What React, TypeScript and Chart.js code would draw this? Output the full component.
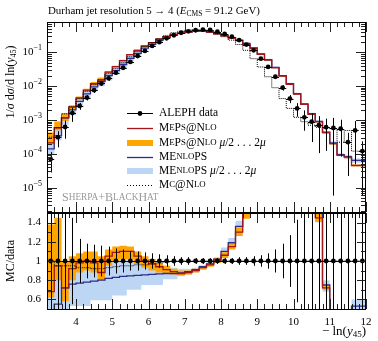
import React, { useEffect, useRef } from "react";
import { Chart, registerables } from "chart.js";
Chart.register(...registerables);

const binEdges = [3.2, 3.4, 3.6, 3.8, 4.0, 4.2, 4.4, 4.6, 4.8, 5.0, 5.2, 5.4, 5.6, 5.8, 6.0, 6.2, 6.4, 6.6, 6.8, 7.0, 7.2, 7.4, 7.6, 7.8, 8.0, 8.2, 8.4, 8.6, 8.8, 9.0, 9.2, 9.4, 9.6, 9.8, 10.0, 10.2, 10.4, 10.6, 10.8, 11.0, 11.2, 11.4, 11.6, 11.8, 12.0];

const aleph = [7e-5, 3.1e-4, 6.2e-4, 1.6e-3, 2.6e-3, 4.6e-3, 7.6e-3, 1.2e-2, 1.7e-2, 2.5e-2,
  3.5e-2, 5.2e-2, 7.8e-2, 0.11, 0.155, 0.2, 0.26, 0.32, 0.38, 0.42,
  0.45, 0.47, 0.46, 0.41, 0.35, 0.29, 0.23, 0.17, 0.115, 0.065,
  0.037, 0.019, 9e-3, 4.3e-3, 2.2e-3, 1.2e-3, 8.9e-4, 7e-4, 6.1e-4, 5.8e-4,
  5.5e-4, 2.2e-4, 4.9e-4, 1.2e-4];
const alephErr = [0.6, 0.5, 0.55, 0.45, 0.23, 0.18, 0.17, 0.16, 0.15, 0.13,
  0.12, 0.1, 0.1, 0.09, 0.08, 0.07, 0.06, 0.05, 0.04, 0.04,
  0.03, 0.03, 0.03, 0.03, 0.03, 0.03, 0.04, 0.04, 0.05, 0.06,
  0.08, 0.12, 0.18, 0.27, 0.43, 0.6, 0.75, 0.85, 0.8, 0.99,
  0.85, 0.9, 0.9, 0.95];

const mepsTop = [6.3e-5, 2.1e-4, 5.9e-4, 1.15e-3, 2.4e-3, 4.5e-3, 7.6e-3, 1.18e-2, 1.5e-2, 2.6e-2,
  3.8e-2, 5.7e-2, 8.6e-2, 0.115, 0.155, 0.194, 0.244, 0.291, 0.338, 0.365,
  0.396, 0.423, 0.428, 0.394, 0.35, 0.307, 0.265, 0.221, 0.173, 0.13,
  0.087, 0.059, 0.035, 0.0198, 0.0114, 0.0058, 0.0029, 0.00147, 8.8e-4, 4.2e-4,
  2.0e-4, 9e-5, 8e-5, 4.5e-5];
const mepsBandTopLo = [2.8e-5, 1.92e-4, 4.96e-4, 9.3e-4, 2.08e-3, 4.05e-3, 6.84e-3, 1.06e-2, 1.36e-2, 2.38e-2,
  3.5e-2, 5.3e-2, 7.96e-2, 0.107, 0.144, 0.18, 0.229, 0.278, 0.327, 0.357,
  0.387, 0.414, 0.419, 0.385, 0.343, 0.299, 0.258, 0.214, 0.166, 0.1235,
  0.0833, 0.057, 0.0342, 0.0194, 0.0112, 0.00564, 0.00285, 0.0014, 8.6e-4, 4.06e-4,
  1.87e-4, 8.6e-5, 7.4e-5, 4.3e-5];
const mepsBandTopHi = [1.12e-4, 4.3e-4, 9.0e-4, 1.6e-3, 2.73e-3, 4.97e-3, 8.36e-3, 1.32e-2, 1.79e-2, 2.8e-2,
  4.03e-2, 6.03e-2, 8.97e-2, 0.121, 0.163, 0.204, 0.255, 0.304, 0.35, 0.378,
  0.405, 0.432, 0.437, 0.402, 0.36, 0.316, 0.271, 0.23, 0.184, 0.137,
  0.0907, 0.0608, 0.036, 0.0202, 0.0117, 0.00588, 0.00303, 0.00154, 9.15e-4, 4.3e-4,
  2.1e-4, 9.5e-5, 8.3e-5, 4.8e-5];

const menlopsTop = [4.2e-5, 1.4e-4, 3.4e-4, 1.15e-3, 1.98e-3, 3.54e-3, 5.9e-3, 9.5e-3, 1.36e-2, 2.05e-2,
  2.9e-2, 4.37e-2, 6.6e-2, 9.35e-2, 0.1325, 0.172, 0.225, 0.278, 0.331, 0.3675,
  0.40, 0.428, 0.432, 0.398, 0.357, 0.319, 0.274, 0.231, 0.184, 0.1365,
  0.0907, 0.0608, 0.036, 0.0206, 0.0119, 0.006, 0.003, 0.00154, 9.15e-4, 4.35e-4,
  2.1e-4, 9.5e-5, 8.3e-5, 6.4e-5];
const menlopsBandTopLo = [2.1e-5, 9.3e-5, 2.48e-4, 7.2e-4, 1.38e-3, 2.44e-3, 4.03e-3, 7.08e-3, 1.0e-2, 1.48e-2,
  2.24e-2, 3.33e-2, 5.46e-2, 0.077, 0.116, 0.15, 0.195, 0.259, 0.308, 0.353,
  0.387, 0.414, 0.423, 0.39, 0.35, 0.307, 0.262, 0.221, 0.178, 0.13,
  0.0851, 0.057, 0.0342, 0.0194, 0.0112, 0.00564, 0.00285, 0.0014, 8.5e-4, 3.94e-4,
  1.82e-4, 8.4e-5, 6.9e-5, 5.4e-5];
const menlopsBandTopHi = [7e-5, 3.1e-4, 6.2e-4, 1.52e-3, 2.52e-3, 4.46e-3, 7.45e-3, 1.19e-2, 1.7e-2, 2.55e-2,
  3.64e-2, 5.46e-2, 8.19e-2, 0.114, 0.158, 0.2, 0.255, 0.304, 0.353, 0.386,
  0.414, 0.437, 0.437, 0.406, 0.364, 0.331, 0.285, 0.241, 0.196, 0.143,
  0.0962, 0.0646, 0.0378, 0.0215, 0.01254, 0.00636, 0.0032, 0.00165, 9.6e-4, 4.64e-4,
  2.31e-4, 1.03e-4, 9.3e-5, 7.2e-5];

const mcnloTop = [7e-5, 3.1e-4, 5.9e-4, 1.52e-3, 2.47e-3, 4.28e-3, 7.07e-3, 1.1e-2, 1.56e-2, 2.33e-2,
  3.29e-2, 4.94e-2, 7.41e-2, 0.106, 0.149, 0.194, 0.255, 0.317, 0.38, 0.42,
  0.45, 0.47, 0.46, 0.41, 0.35, 0.29, 0.23, 0.17, 0.115, 0.065,
  0.037, 0.019, 9e-3, 4.3e-3, 2.2e-3, 1.2e-3, 8.9e-4, 7e-4, 6.1e-4, 5.8e-4,
  5.5e-4, 2.2e-4, 4.9e-4, 1.2e-4];

const mepsRatio = [0.9, 0.68, 0.95, 0.72, 0.92, 0.98, 1.0, 0.98, 0.88, 1.05,
  1.09, 1.1, 1.1, 1.05, 1.0, 0.97, 0.94, 0.91, 0.89, 0.87,
  0.88, 0.9, 0.93, 0.96, 1.0, 1.06, 1.15, 1.3, 1.5, 2.0,
  2.35, 3.1, 3.9, 4.6, 5.2, 4.8, 3.3, 2.1, 1.45, 0.72,
  0.36, 0.41, 0.16, 0.38];
const mepsBandRatioLo = [0.4, 0.62, 0.8, 0.58, 0.8, 0.88, 0.9, 0.88, 0.8, 0.95,
  1.0, 1.02, 1.02, 0.97, 0.93, 0.9, 0.88, 0.87, 0.86, 0.85,
  0.86, 0.88, 0.91, 0.94, 0.98, 1.03, 1.12, 1.26, 1.44, 1.9,
  2.25, 3.0, 3.8, 4.5, 5.1, 4.7, 3.2, 2.0, 1.41, 0.7,
  0.34, 0.39, 0.15, 0.36];
const mepsBandRatioHi = [1.6, 1.38, 1.45, 1.0, 1.05, 1.08, 1.1, 1.1, 1.05, 1.12,
  1.15, 1.16, 1.15, 1.1, 1.05, 1.02, 0.98, 0.95, 0.92, 0.9,
  0.9, 0.92, 0.95, 0.98, 1.03, 1.09, 1.18, 1.35, 1.6, 2.1,
  2.45, 3.2, 4.0, 4.7, 5.3, 4.9, 3.4, 2.2, 1.5, 0.74,
  0.38, 0.43, 0.17, 0.4];

const menlopsRatio = [0.6, 0.45, 0.55, 0.72, 0.76, 0.77, 0.78, 0.79, 0.8, 0.82,
  0.83, 0.84, 0.845, 0.85, 0.855, 0.86, 0.865, 0.87, 0.87, 0.875,
  0.89, 0.91, 0.94, 0.97, 1.02, 1.1, 1.19, 1.36, 1.6, 2.1,
  2.45, 3.2, 4.0, 4.8, 5.4, 5.0, 3.4, 2.2, 1.5, 0.75,
  0.38, 0.43, 0.17, 0.53];
const menlopsBandRatioLo = [0.3, 0.3, 0.4, 0.45, 0.53, 0.53, 0.53, 0.59, 0.59, 0.59,
  0.64, 0.64, 0.7, 0.7, 0.75, 0.75, 0.75, 0.81, 0.81, 0.84,
  0.86, 0.88, 0.92, 0.95, 1.0, 1.06, 1.14, 1.3, 1.55, 2.0,
  2.3, 3.0, 3.8, 4.5, 5.1, 4.7, 3.2, 2.0, 1.4, 0.68,
  0.33, 0.38, 0.14, 0.45];
const menlopsBandRatioHi = [1.0, 1.0, 1.0, 0.95, 0.97, 0.97, 0.98, 0.99, 1.0, 1.02,
  1.04, 1.05, 1.05, 1.04, 1.02, 1.0, 0.98, 0.95, 0.93, 0.92,
  0.92, 0.93, 0.95, 0.99, 1.04, 1.14, 1.24, 1.42, 1.7, 2.2,
  2.6, 3.4, 4.2, 5.0, 5.7, 5.3, 3.6, 2.35, 1.58, 0.8,
  0.42, 0.47, 0.19, 0.6];

const mcnloRatio = [1.0, 1.0, 0.95, 0.95, 0.95, 0.93, 0.93, 0.92, 0.92, 0.93,
  0.94, 0.95, 0.95, 0.96, 0.96, 0.97, 0.98, 0.99, 1.0, 1.0,
  1.0, 1.0, 1.0, 1.0, 1.0, 1.0, 1.0, 1.0, 1.0, 1.0,
  1.0, 1.0, 1.0, 1.0, 1.0, 1.0, 1.0, 1.0, 1.0, 1.0,
  1.0, 1.0, 1.0, 1.0];

const xTickValues = [4, 5, 6, 7, 8, 9, 10, 11, 12];
const xTickLabels = ["4", "5", "6", "7", "8", "9", "10", "11", "12"];
const yTopTickValues = [1e-5, 1e-4, 1e-3, 1e-2, 1e-1];
const yTopTickExps = ["\u22125", "\u22124", "\u22123", "\u22122", "\u22121"];
const yRatioTickValues = [0.6, 0.8, 1, 1.2, 1.4];
const yRatioTickLabels = ["0.6", "0.8", "1", "1.2", "1.4"];

const X_MIN = 3.2, X_MAX = 12;
const Y_TOP_MIN = 1.9e-6, Y_TOP_MAX = 0.79;
const Y_R_MIN = 0.5, Y_R_MAX = 1.5;

const RED = "#a4161a";
const ORANGE = "#ffa500";
const BLUE = "#2c2c8c";
const LIGHTBLUE = "#bdd6f4";
const FONT = '"Liberation Serif", "DejaVu Serif", serif';

type Run = { t: string; s?: number; i?: boolean; dy?: number };

function setFont(ctx: CanvasRenderingContext2D, size: number, italic?: boolean) {
  ctx.font = `${italic ? "italic " : ""}${size}px ${FONT}`;
}
function drawRuns(ctx: CanvasRenderingContext2D, runs: Run[], x: number, y: number, base: number, align: "left" | "right" | "center" = "left") {
  let total = 0;
  const widths = runs.map((r) => { setFont(ctx, r.s ?? base, r.i); const w = ctx.measureText(r.t).width; total += w; return w; });
  let cx = align === "right" ? x - total : align === "center" ? x - total / 2 : x;
  runs.forEach((r, k) => {
    setFont(ctx, r.s ?? base, r.i);
    ctx.fillText(r.t, cx, y + (r.dy ?? 0));
    cx += widths[k];
  });
}

function steps(vals: number[]) {
  const pts = vals.map((v, i) => ({ x: binEdges[i], y: v }));
  pts.push({ x: binEdges[vals.length], y: vals[vals.length - 1] });
  return pts;
}
function lineDS(vals: number[], color: string, width: number, order: number, extra: any = {}) {
  return { data: steps(vals), stepped: "after", borderColor: color, borderWidth: width, pointRadius: 0, fill: false, order, ...extra };
}
function bandDS(lo: number[], hi: number[], color: string, order: number) {
  return [
    { data: steps(lo), stepped: "after", borderWidth: 0, borderColor: "rgba(0,0,0,0)", pointRadius: 0, fill: false, order },
    { data: steps(hi), stepped: "after", borderWidth: 0, borderColor: "rgba(0,0,0,0)", pointRadius: 0, fill: "-1", backgroundColor: color, order },
  ];
}
function pointsDS(vals: number[]) {
  return {
    data: vals.map((v, i) => ({ x: (binEdges[i] + binEdges[i + 1]) / 2, y: v })),
    showLine: false, pointRadius: 2.4, pointBackgroundColor: "#000", pointBorderWidth: 0, order: 0,
  };
}

function errorBars(vals: number[], errs: number[]) {
  return {
    id: "errbars",
    afterDatasetsDraw(chart: any) {
      const { ctx, chartArea: a, scales: { x, y } } = chart;
      ctx.save();
      ctx.beginPath(); ctx.rect(a.left, a.top, a.right - a.left, a.bottom - a.top); ctx.clip();
      ctx.strokeStyle = "#000"; ctx.lineWidth = 1;
      vals.forEach((v, i) => {
        const cx = Math.round(x.getPixelForValue((binEdges[i] + binEdges[i + 1]) / 2)) + 0.5;
        const py = Math.round(y.getPixelForValue(v)) + 0.5;
        const lo = v * (1 - errs[i]);
        const hi = v * (1 + errs[i]);
        const pLo = lo > 0 ? y.getPixelForValue(lo) : a.bottom + 5;
        const pHi = y.getPixelForValue(hi);
        ctx.beginPath(); ctx.moveTo(cx, pLo); ctx.lineTo(cx, pHi); ctx.stroke();
        ctx.beginPath(); ctx.moveTo(x.getPixelForValue(binEdges[i]), py); ctx.lineTo(x.getPixelForValue(binEdges[i + 1]), py); ctx.stroke();
      });
      ctx.restore();
    },
  };
}

function drawFrame(chart: any, yMajor: number[], yMinor: number[], xMajLen: number, yMajLen: number) {
  const { ctx, chartArea: a, scales } = chart;
  const xs = scales.x, ys = scales.y;
  ctx.save();
  ctx.strokeStyle = "#222"; ctx.lineWidth = 1;
  ctx.beginPath();
  for (let k = 0; k <= 44; k++) {
    const v = X_MIN + 0.2 * k;
    const major = Math.abs(v - Math.round(v)) < 1e-6;
    const len = major ? xMajLen : 5;
    const px = Math.round(xs.getPixelForValue(v)) + 0.5;
    ctx.moveTo(px, a.top); ctx.lineTo(px, a.top + len);
    ctx.moveTo(px, a.bottom); ctx.lineTo(px, a.bottom - len);
  }
  const yt = (v: number, len: number) => {
    const py = Math.round(ys.getPixelForValue(v)) + 0.5;
    if (py < a.top || py > a.bottom) return;
    ctx.moveTo(a.left, py); ctx.lineTo(a.left + len, py);
    ctx.moveTo(a.right, py); ctx.lineTo(a.right - len, py);
  };
  yMajor.forEach((v) => yt(v, yMajLen));
  yMinor.forEach((v) => yt(v, 5));
  ctx.stroke();
  ctx.strokeStyle = "#000";
  ctx.strokeRect(a.left + 0.5, a.top + 0.5, a.right - a.left - 1, a.bottom - a.top);
  ctx.restore();
}

const topDecor = {
  id: "topDecor",
  afterDraw(chart: any) {
    const { ctx, scales } = chart;
    const ys = scales.y;
    const minor: number[] = [];
    for (let d = -6; d <= 0; d++) for (let m = 2; m <= 9; m++) {
      const v = m * Math.pow(10, d);
      if (v > Y_TOP_MIN && v < Y_TOP_MAX) minor.push(v);
    }
    drawFrame(chart, yTopTickValues, minor, 10, 10);
    ctx.save();
    ctx.fillStyle = "#000";
    ctx.textBaseline = "middle";
    yTopTickValues.forEach((v, i) => {
      const py = ys.getPixelForValue(v);
      drawRuns(ctx, [{ t: "10", s: 11 }, { t: yTopTickExps[i], s: 8, dy: -4 }], 42, py, 11, "right");
    });
    // title
    drawRuns(ctx, [
      { t: "Durham jet resolution 5 \u2192 4 (" },
      { t: "E", i: true },
      { t: "CMS", s: 7.5, dy: 3 },
      { t: " = 91.2 GeV)" },
    ], 48, 11, 10.9, "left");
    // y label
    ctx.save();
    ctx.translate(11, 82);
    ctx.rotate(-Math.PI / 2);
    drawRuns(ctx, [
      { t: "1/" }, { t: "\u03c3", i: true }, { t: " d" }, { t: "\u03c3", i: true },
      { t: "/d ln(" }, { t: "y", i: true }, { t: "45", s: 8, dy: 3 }, { t: ")" },
    ], 0, 0, 12, "center");
    ctx.restore();
    // legend
    const lx0 = 127, lx1 = 153, tx = 159;
    const rows = [113, 128, 143, 157, 171, 185];
    ctx.lineWidth = 1;
    ctx.strokeStyle = "#000";
    ctx.beginPath(); ctx.moveTo(lx0, rows[0] + 0.5); ctx.lineTo(lx1, rows[0] + 0.5); ctx.stroke();
    ctx.beginPath(); ctx.arc((lx0 + lx1) / 2, rows[0] + 0.5, 2.4, 0, Math.PI * 2); ctx.fill();
    ctx.strokeStyle = RED; ctx.lineWidth = 1.3;
    ctx.beginPath(); ctx.moveTo(lx0, rows[1] + 0.5); ctx.lineTo(lx1, rows[1] + 0.5); ctx.stroke();
    ctx.fillStyle = ORANGE; ctx.fillRect(lx0, rows[2] - 3, lx1 - lx0, 6);
    ctx.strokeStyle = BLUE;
    ctx.beginPath(); ctx.moveTo(lx0, rows[3] + 0.5); ctx.lineTo(lx1, rows[3] + 0.5); ctx.stroke();
    ctx.fillStyle = LIGHTBLUE; ctx.fillRect(lx0, rows[4] - 3, lx1 - lx0, 6);
    ctx.strokeStyle = "#000"; ctx.lineWidth = 1; ctx.setLineDash([1, 2]);
    ctx.beginPath(); ctx.moveTo(lx0, rows[5] + 0.5); ctx.lineTo(lx1, rows[5] + 0.5); ctx.stroke();
    ctx.setLineDash([]);
    ctx.fillStyle = "#000";
    const B = 11.5, S = 8.8;
    const meps: Run[] = [{ t: "M" }, { t: "E", s: S }, { t: "P" }, { t: "S", s: S }, { t: "@" }, { t: "N" }, { t: "LO", s: S }];
    const menlops: Run[] = [{ t: "ME" }, { t: "NLO", s: S }, { t: "PS" }];
    const mu: Run[] = [{ t: " " }, { t: "\u03bc", i: true }, { t: "/2 . . . 2" }, { t: "\u03bc", i: true }];
    drawRuns(ctx, [{ t: "ALEPH data" }], tx, rows[0], B);
    drawRuns(ctx, meps, tx, rows[1], B);
    drawRuns(ctx, [...meps, ...mu], tx, rows[2], B);
    drawRuns(ctx, menlops, tx, rows[3], B);
    drawRuns(ctx, [...menlops, ...mu], tx, rows[4], B);
    drawRuns(ctx, [{ t: "M" }, { t: "C", s: S }, { t: "@" }, { t: "N" }, { t: "LO", s: S }], tx, rows[5], B);
    // Sherpa+BlackHat
    ctx.fillStyle = "#9a9a9a";
    const SB = 12, SS = 9.3;
    drawRuns(ctx, [
      { t: "S" }, { t: "HERPA", s: SS }, { t: "+" }, { t: "B" }, { t: "LACK", s: SS }, { t: "H" }, { t: "AT", s: SS },
    ], 62, 198, SB);
    ctx.restore();
  },
};

const ratioDecor = {
  id: "ratioDecor",
  afterDraw(chart: any) {
    const { ctx, chartArea: a, scales } = chart;
    const xs = scales.x, ys = scales.y;
    const minor: number[] = [];
    for (let k = 5; k <= 15; k++) minor.push(k / 10);
    drawFrame(chart, yRatioTickValues, minor, 10, 9);
    ctx.save();
    ctx.fillStyle = "#000";
    ctx.textBaseline = "middle";
    yRatioTickValues.forEach((v, i) => {
      drawRuns(ctx, [{ t: yRatioTickLabels[i] }], 41, ys.getPixelForValue(v), 11, "right");
    });
    xTickValues.forEach((v, i) => {
      drawRuns(ctx, [{ t: xTickLabels[i] }], xs.getPixelForValue(v), a.bottom + 13, 11, "center");
    });
    drawRuns(ctx, [{ t: "\u2212 ln(" }, { t: "y", i: true }, { t: "45", s: 9, dy: 3 }, { t: ")" }], a.right, a.bottom + 23, 13, "right");
    ctx.save();
    ctx.translate(11, ys.getPixelForValue(1));
    ctx.rotate(-Math.PI / 2);
    drawRuns(ctx, [{ t: "MC/data" }], 0, 0, 12, "center");
    ctx.restore();
    ctx.restore();
  },
};

const commonOptions = (yScale: any, pad: any) => ({
  responsive: false,
  animation: false as const,
  devicePixelRatio: 1,
  events: [] as any[],
  layout: { padding: pad },
  plugins: { legend: { display: false }, tooltip: { enabled: false }, title: { display: false } },
  scales: {
    x: { type: "linear", min: X_MIN, max: X_MAX, display: false, bounds: "data" },
    y: { ...yScale, display: false, bounds: "data" },
  },
});

export default function App() {
  const topRef = useRef<HTMLCanvasElement>(null);
  const botRef = useRef<HTMLCanvasElement>(null);
  useEffect(() => {
    document.body.style.margin = "0";
    const alephRatio = aleph.map(() => 1);
    const top = new Chart(topRef.current as HTMLCanvasElement, {
      type: "line",
      data: {
        datasets: [
          ...bandDS(menlopsBandTopLo, menlopsBandTopHi, LIGHTBLUE, 20),
          ...bandDS(mepsBandTopLo, mepsBandTopHi, ORANGE, 15),
          lineDS(menlopsTop, BLUE, 1.3, 10),
          lineDS(mepsTop, RED, 1.3, 8),
          lineDS(mcnloTop, "#000", 1, 6, { borderDash: [1, 1] }),
          pointsDS(aleph),
        ] as any,
      },
      options: commonOptions({ type: "logarithmic", min: Y_TOP_MIN, max: Y_TOP_MAX }, { left: 47, right: 12, top: 22, bottom: 3 }) as any,
      plugins: [errorBars(aleph, alephErr), topDecor],
    });
    const bot = new Chart(botRef.current as HTMLCanvasElement, {
      type: "line",
      data: {
        datasets: [
          ...bandDS(menlopsBandRatioLo, menlopsBandRatioHi, LIGHTBLUE, 20),
          ...bandDS(mepsBandRatioLo, mepsBandRatioHi, ORANGE, 15),
          lineDS(menlopsRatio, BLUE, 1.3, 10),
          lineDS(mepsRatio, RED, 1.3, 8),
          lineDS(mcnloRatio, "#000", 1, 6, { borderDash: [1, 1] }),
          pointsDS(alephRatio),
        ] as any,
      },
      options: commonOptions({ type: "linear", min: Y_R_MIN, max: Y_R_MAX }, { left: 47, right: 12, top: 8, bottom: 32 }) as any,
      plugins: [errorBars(alephRatio, alephErr), ratioDecor],
    });
    return () => { top.destroy(); bot.destroy(); };
  }, []);
  return (
    <div style={{ position: "relative", width: 378, height: 341, background: "#fff" }}>
      <canvas ref={topRef} width={378} height={216} style={{ position: "absolute", left: 0, top: 0 }} />
      <canvas ref={botRef} width={378} height={136} style={{ position: "absolute", left: 0, top: 205 }} />
    </div>
  );
}
